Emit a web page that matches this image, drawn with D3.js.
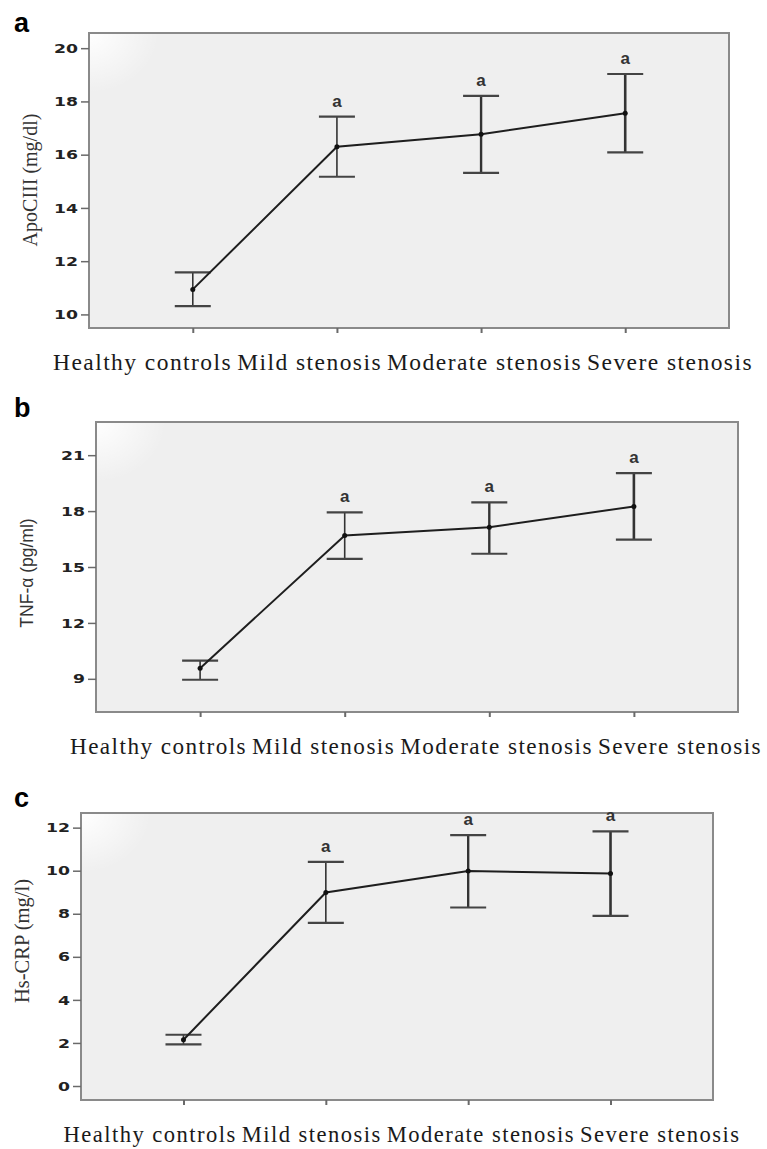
<!DOCTYPE html>
<html>
<head>
<meta charset="utf-8">
<script src="https://cdn.jsdelivr.net/npm/d3@7"></script>
<style>
  body { margin: 0; background: #fff; }
  svg { display: block; }
</style>
</head>
<body>
<script>
// groups on the x axis
var groups = ["Healthy controls", "Mild stenosis", "Moderate stenosis", "Severe stenosis"];
var sigLetters = ["", "a", "a", "a"];

// (a) ApoCIII
var apoMean = [10.94, 16.30, 16.77, 17.56];
var apoLow = [10.31, 15.17, 15.32, 16.09];
var apoHigh = [11.58, 17.43, 18.21, 19.03];
var apoTicks = [10, 12, 14, 16, 18, 20];

// (b) TNF-alpha
var tnfMean = [9.57, 16.69, 17.13, 18.25];
var tnfLow = [8.95, 15.44, 15.71, 16.47];
var tnfHigh = [9.98, 17.93, 18.47, 20.04];
var tnfTicks = [9, 12, 15, 18, 21];

// (c) Hs-CRP
var crpMean = [2.15, 8.99, 9.99, 9.87];
var crpLow = [1.93, 7.58, 8.29, 7.90];
var crpHigh = [2.38, 10.41, 11.65, 11.83];
var crpTicks = [0, 2, 4, 6, 8, 10, 12];

var width = 767, height = 1149;
var barWidths = [1.6, 1.6, 2.4, 2.6];

var svg = d3.select("body").append("svg")
    .attr("width", width)
    .attr("height", height);

var defs = svg.append("defs");
var glare = defs.append("radialGradient")
    .attr("id", "glare")
    .attr("cx", 0).attr("cy", 0).attr("r", 1)
    .attr("gradientUnits", "objectBoundingBox");
glare.append("stop").attr("offset", "0%").attr("stop-color", "#ffffff").attr("stop-opacity", 1);
glare.append("stop").attr("offset", "100%").attr("stop-color", "#ffffff").attr("stop-opacity", 0);

var panels = [
    { letter: "a", letterY: 32, box: [89, 33, 729, 328], domain: [9.49, 20.57],
      mean: apoMean, low: apoLow, high: apoHigh, ticks: apoTicks,
      title: "ApoCIII (mg/dl)", titleFont: "'Liberation Serif', 'Times New Roman', serif", titleSize: 20,
      titleX: 30, titleY: 180, labelCenter: 403, labelSize: 23.5 },
    { letter: "b", letterY: 417, box: [96, 422, 738, 712], domain: [7.22, 22.78],
      mean: tnfMean, low: tnfLow, high: tnfHigh, ticks: tnfTicks,
      title: "TNF-\u03b1 (pg/ml)", titleFont: "'Liberation Sans', Arial, sans-serif", titleSize: 17.5,
      titleX: 27, titleY: 573, labelCenter: 416, labelSize: 23.2 },
    { letter: "c", letterY: 807, box: [81, 813, 713, 1100], domain: [-0.65, 12.68],
      mean: crpMean, low: crpLow, high: crpHigh, ticks: crpTicks,
      title: "Hs-CRP (mg/l)", titleFont: "'Liberation Serif', 'Times New Roman', serif", titleSize: 20.5,
      titleX: 22, titleY: 941, labelCenter: 402, labelSize: 22.6 }
];

panels.forEach(function (p) {
    var left = p.box[0], top = p.box[1], right = p.box[2], bottom = p.box[3];
    var g = svg.append("g");

    var x = d3.scalePoint()
        .domain(groups)
        .range([left, right])
        .padding(0.72);
    var y = d3.scaleLinear()
        .domain(p.domain)
        .range([bottom, top]);

    // panel letter
    g.append("text")
        .attr("x", 14)
        .attr("y", p.letterY)
        .style("font-family", "'Liberation Sans', Arial, sans-serif")
        .style("font-weight", "bold")
        .style("font-size", "27px")
        .text(p.letter);

    // plot area
    g.append("rect")
        .attr("x", left).attr("y", top)
        .attr("width", right - left).attr("height", bottom - top)
        .style("fill", "#efefef");
    g.append("rect")
        .attr("x", left).attr("y", top)
        .attr("width", 70).attr("height", 60)
        .style("fill", "url(#glare)");
    g.append("rect")
        .attr("x", left).attr("y", top)
        .attr("width", right - left).attr("height", bottom - top)
        .style("fill", "none")
        .style("stroke", "#8a8a8a")
        .style("stroke-width", 2);

    // y axis
    var yAxis = g.append("g")
        .attr("transform", "translate(" + left + ",0)")
        .call(d3.axisLeft(y).tickValues(p.ticks).tickSize(8).tickPadding(0));
    yAxis.select(".domain").remove();
    yAxis.selectAll(".tick line").style("stroke", "#6a6a6a").style("stroke-width", 1.5);
    yAxis.selectAll(".tick text")
        .attr("x", -11 / 1.5)
        .attr("dy", "0.36em")
        .attr("transform", "scale(1.5,1)")
        .style("font-family", "'DejaVu Sans', Arial, sans-serif")
        .style("font-weight", "bold")
        .style("font-size", "11.5px")
        .style("fill", "#222");

    // x axis ticks
    var xAxis = g.append("g")
        .attr("transform", "translate(0," + bottom + ")")
        .call(d3.axisBottom(x).tickSize(5).tickFormat(""));
    xAxis.select(".domain").remove();
    xAxis.selectAll(".tick line").style("stroke", "#6a6a6a").style("stroke-width", 2);

    // x labels laid out side by side, centred under the panel
    var labels = g.append("g").selectAll("text")
        .data(groups)
        .enter().append("text")
        .attr("y", bottom + 42)
        .style("font-family", "'Liberation Serif', 'Times New Roman', serif")
        .style("font-size", p.labelSize + "px")
        .style("letter-spacing", "1.45px")
        .style("fill", "#1a1a1a")
        .text(function (d) { return d; });
    var widths = [];
    labels.each(function () { widths.push(this.getComputedTextLength()); });
    var gap = 5;
    var total = d3.sum(widths) + gap * (widths.length - 1);
    var cursor = p.labelCenter - total / 2;
    labels.attr("x", function (d, i) {
        var pos = cursor;
        cursor += widths[i] + gap;
        return pos;
    });

    // y title
    g.append("text")
        .attr("transform", "translate(" + p.titleX + "," + p.titleY + ") rotate(-90)")
        .attr("text-anchor", "middle")
        .attr("dy", "0.35em")
        .style("font-family", p.titleFont)
        .style("font-size", p.titleSize + "px")
        .style("fill", "#333")
        .text(p.title);

    var rows = groups.map(function (d, i) {
        return { group: d, mean: p.mean[i], low: p.low[i], high: p.high[i], sig: sigLetters[i], w: barWidths[i] };
    });

    // error bars
    var bars = g.append("g").selectAll("g")
        .data(rows)
        .enter().append("g");
    bars.append("line")
        .attr("x1", function (d) { return x(d.group); })
        .attr("x2", function (d) { return x(d.group); })
        .attr("y1", function (d) { return y(d.low); })
        .attr("y2", function (d) { return y(d.high); })
        .style("stroke", "#333")
        .style("stroke-width", function (d) { return d.w; });
    bars.append("line")
        .attr("x1", function (d) { return x(d.group) - 18; })
        .attr("x2", function (d) { return x(d.group) + 18; })
        .attr("y1", function (d) { return y(d.high); })
        .attr("y2", function (d) { return y(d.high); })
        .style("stroke", "#444")
        .style("stroke-width", 2.2);
    bars.append("line")
        .attr("x1", function (d) { return x(d.group) - 18; })
        .attr("x2", function (d) { return x(d.group) + 18; })
        .attr("y1", function (d) { return y(d.low); })
        .attr("y2", function (d) { return y(d.low); })
        .style("stroke", "#444")
        .style("stroke-width", 2.2);
    bars.append("text")
        .attr("x", function (d) { return x(d.group); })
        .attr("y", function (d) { return y(d.high) - 10; })
        .attr("text-anchor", "middle")
        .style("font-family", "'Liberation Sans', Arial, sans-serif")
        .style("font-weight", "bold")
        .style("font-size", "17px")
        .style("fill", "#333")
        .text(function (d) { return d.sig; });

    // mean line
    var line = d3.line()
        .x(function (d) { return x(d.group); })
        .y(function (d) { return y(d.mean); });
    g.append("path")
        .datum(rows)
        .attr("d", line)
        .style("fill", "none")
        .style("stroke", "#1e1e1e")
        .style("stroke-width", 2);
    g.append("g").selectAll("circle")
        .data(rows)
        .enter().append("circle")
        .attr("cx", function (d) { return x(d.group); })
        .attr("cy", function (d) { return y(d.mean); })
        .attr("r", 2.5)
        .style("fill", "#111");
});
</script>
</body>
</html>
